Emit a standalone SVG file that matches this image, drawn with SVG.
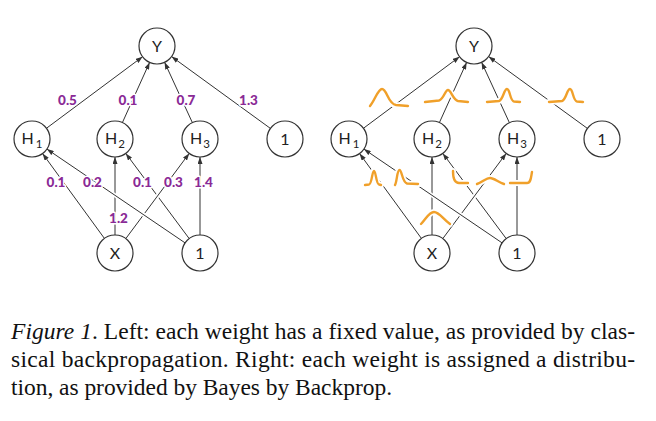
<svg xmlns="http://www.w3.org/2000/svg" xmlns:xlink="http://www.w3.org/1999/xlink" width="656" height="421" viewBox="0 0 656 421">
<style>
.node circle{fill:#fff;stroke:#333;stroke-width:1.2}
.node text{font-family:Lato,"Open Sans",sans-serif;font-size:16px;fill:#222;text-anchor:middle}
.sub{font-size:11.5px}
.edge{stroke:#333;stroke-width:1;fill:none;marker-end:url(#ah)}
.halo{stroke:#fff;stroke-width:4;fill:none}
.w{font-family:Lato,"Open Sans",sans-serif;font-weight:900;font-size:13.5px;fill:#8A2A96;text-anchor:middle;stroke:#fff;stroke-width:3;paint-order:stroke;stroke-linejoin:round}
.ch{stroke:#fff;stroke-width:6;fill:none;stroke-linecap:round}
.cv{stroke:#F0A02A;stroke-width:2.4;fill:none;stroke-linecap:round;stroke-linejoin:round}
.cap{font-family:"Liberation Serif","Times New Roman",serif;font-size:23.5px;fill:#111}
</style>
<defs>
<marker id="ah" markerWidth="7" markerHeight="5" refX="7" refY="2.5" orient="auto" markerUnits="userSpaceOnUse"><path d="M0,0 L7,2.5 L0,5 z" fill="#333"/></marker>
<path id="c1" d="M370,106 C375,100 378,89 382,89 C387,89 388,104 396,105 L408,106"/>
<path id="c2" d="M425,102 L439,100.5 C444,99 445,90 448,90 C451,90 453,100 458,101 L468,102"/>
<path id="c3" d="M487,102 L499,101 C503,100 504,89 507,89 C510,89 510,101 514,101.5 L520,102"/>
<path id="c4" d="M549,102 L562,101 C566,100 567,89 570,89 C573,89 573,101 577,101.5 L583,102"/>
<path id="c5" d="M365,185 L369,184.5 C372,184 372,171 374,171 C376,171 376,184 379,184.5 L381,185"/>
<path id="c6" d="M395,185 C397,182 397,170 399.5,170 C402,170 402,182 407,183.5 L418,184"/>
<path id="c7" d="M453,171 C453,178 454,183 459,183 L468,183"/>
<path id="c8" d="M477,184 C483,182 486,178 490,178 C494,178 498,182 504,184"/>
<path id="c9" d="M510,183 L527,183 C531,183 531,177 532,172"/>
<path id="c10" d="M421,224 C426,219 429,212 434,212 C439,212 443,219 450,224"/>
</defs>

<g id="connectors">
<!-- left panel -->
<line class="edge" x1="46.4" y1="128.3" x2="142.6" y2="56.7"/>
<line class="edge" x1="122.4" y1="122.6" x2="149.6" y2="62.4"/>
<line class="edge" x1="192.4" y1="122.7" x2="164.6" y2="62.3"/>
<line class="edge" x1="270.4" y1="128.4" x2="171.6" y2="56.6"/>
<line class="edge" x1="115" y1="235" x2="115" y2="157"/>
<line class="edge" x1="189.2" y1="238.6" x2="125.8" y2="153.4"/>
<line class="halo" x1="135.3" y1="225.8" x2="179.7" y2="166.2"/>
<line class="edge" x1="125.8" y1="238.6" x2="189.2" y2="153.4"/>
<line class="halo" x1="157.5" y1="224.1" x2="74.5" y2="167.9"/>
<line class="edge" x1="185.1" y1="242.9" x2="46.9" y2="149.1"/>
<line class="edge" x1="104.4" y1="238.4" x2="42.6" y2="153.6"/>
<line class="edge" x1="200" y1="235" x2="200" y2="157"/>
<!-- right panel -->
<line class="edge" x1="363.4" y1="128.3" x2="459.6" y2="56.7"/>
<line class="edge" x1="439.4" y1="122.6" x2="466.6" y2="62.4"/>
<line class="edge" x1="509.4" y1="122.7" x2="481.6" y2="62.3"/>
<line class="edge" x1="587.4" y1="128.4" x2="488.6" y2="56.6"/>
<line class="edge" x1="432" y1="235" x2="432" y2="157"/>
<line class="edge" x1="506.2" y1="238.6" x2="442.8" y2="153.4"/>
<line class="halo" x1="452.3" y1="225.8" x2="496.7" y2="166.2"/>
<line class="edge" x1="442.8" y1="238.6" x2="506.2" y2="153.4"/>
<line class="halo" x1="474.5" y1="224.1" x2="391.5" y2="167.9"/>
<line class="edge" x1="502.1" y1="242.9" x2="363.9" y2="149.1"/>
<line class="edge" x1="421.4" y1="238.4" x2="359.6" y2="153.6"/>
<line class="edge" x1="517" y1="235" x2="517" y2="157"/>
</g>

<g id="weights">
<text class="w" x="67.5" y="104.7">0.5</text>
<text class="w" x="128" y="104.7">0.1</text>
<text class="w" x="186" y="104.7">0.7</text>
<text class="w" x="248.5" y="104.7">1.3</text>
<text class="w" x="56" y="186.7">0.1</text>
<text class="w" x="92.5" y="186.7">0.2</text>
<text class="w" x="142.5" y="186.7">0.1</text>
<text class="w" x="173.5" y="186.7">0.3</text>
<text class="w" x="203.5" y="186.7">1.4</text>
<text class="w" x="118.5" y="222.7">1.2</text>
</g>

<g id="distributions">
<use href="#c1" class="ch"/><use href="#c1" class="cv"/>
<use href="#c2" class="ch"/><use href="#c2" class="cv"/>
<use href="#c3" class="ch"/><use href="#c3" class="cv"/>
<use href="#c4" class="ch"/><use href="#c4" class="cv"/>
<use href="#c5" class="ch"/><use href="#c5" class="cv"/>
<use href="#c6" class="ch"/><use href="#c6" class="cv"/>
<use href="#c7" class="ch"/><use href="#c7" class="cv"/>
<use href="#c8" class="ch"/><use href="#c8" class="cv"/>
<use href="#c9" class="ch"/><use href="#c9" class="cv"/>
<use href="#c10" class="ch"/><use href="#c10" class="cv"/>
</g>

<!-- left nodes -->
<g id="L-Y" class="node"><circle cx="157" cy="46" r="18"/><text x="157" y="51.5">Y</text></g>
<g id="L-H1" class="node"><circle cx="32" cy="139" r="18"/><text x="32" y="144">H<tspan class="sub" dx="2" dy="4">1</tspan></text></g>
<g id="L-H2" class="node"><circle cx="115" cy="139" r="18"/><text x="115" y="144">H<tspan class="sub" dx="1" dy="4">2</tspan></text></g>
<g id="L-H3" class="node"><circle cx="200" cy="139" r="18"/><text x="200" y="144">H<tspan class="sub" dx="1" dy="4">3</tspan></text></g>
<g id="L-B1" class="node"><circle cx="285" cy="139" r="18"/><text x="285" y="144.5">1</text></g>
<g id="L-X" class="node"><circle cx="115" cy="253" r="18"/><text x="115" y="258.5">X</text></g>
<g id="L-B2" class="node"><circle cx="200" cy="253" r="18"/><text x="200" y="258.5">1</text></g>

<!-- right nodes -->
<g id="R-Y" class="node"><circle cx="474" cy="46" r="18"/><text x="474" y="51.5">Y</text></g>
<g id="R-H1" class="node"><circle cx="349" cy="139" r="18"/><text x="349" y="144">H<tspan class="sub" dx="2" dy="4">1</tspan></text></g>
<g id="R-H2" class="node"><circle cx="432" cy="139" r="18"/><text x="432" y="144">H<tspan class="sub" dx="1" dy="4">2</tspan></text></g>
<g id="R-H3" class="node"><circle cx="517" cy="139" r="18"/><text x="517" y="144">H<tspan class="sub" dx="1" dy="4">3</tspan></text></g>
<g id="R-B1" class="node"><circle cx="602" cy="139" r="18"/><text x="602" y="144.5">1</text></g>
<g id="R-X" class="node"><circle cx="432" cy="253" r="18"/><text x="432" y="258.5">X</text></g>
<g id="R-B2" class="node"><circle cx="517" cy="253" r="18"/><text x="517" y="258.5">1</text></g>

<g id="caption">
<text class="cap" x="11" y="339" textLength="624" lengthAdjust="spacing"><tspan font-style="italic">Figure 1</tspan>. Left: each weight has a fixed value, as provided by clas-</text>
<text class="cap" x="11" y="367" textLength="624" lengthAdjust="spacing">sical backpropagation. Right: each weight is assigned a distribu-</text>
<text class="cap" x="11" y="395" textLength="381" lengthAdjust="spacing">tion, as provided by Bayes by Backprop.</text>
</g>
</svg>
